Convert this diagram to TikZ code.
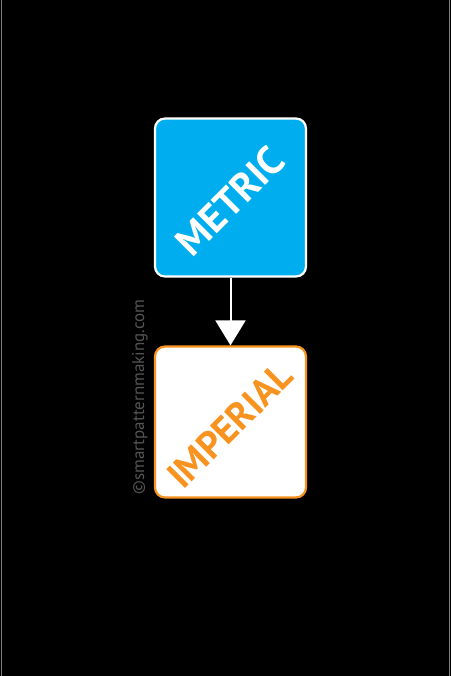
\documentclass[tikz,border=0pt]{standalone}
\usepackage{fontspec}
\setmainfont{PT Sans}
\usepackage{xcolor}
\usetikzlibrary{arrows.meta, positioning}
\definecolor{metricblue}{HTML}{00AEEF}
\definecolor{imperialorange}{HTML}{F7931E}
\definecolor{markgray}{HTML}{555555}

\begin{document}
\begin{tikzpicture}[
    x=1pt, y=-1pt,
    unitbox/.style={rectangle, rounded corners=10pt, minimum width=151pt, minimum height=158pt, line width=2.2pt},
    metricbox/.style={unitbox, draw=white, fill=metricblue},
    imperialbox/.style={unitbox, draw=imperialorange, fill=white, minimum height=151pt},
    unitlabel/.style={rotate=45, font=\fontsize{38}{40}\selectfont\bfseries},
    arrow/.style={-{Triangle[length=25pt, width=30pt]}, line width=2pt, white}
]

% background and frame
\fill[black] (0,0) rectangle (451,676);
\useasboundingbox (0,0) rectangle (451,676);
\draw[gray, line width=1pt] (1.5,0) -- (1.5,676);
\draw[gray, line width=1pt] (449.5,0) -- (449.5,676);

\node[metricbox] (metric) at (230.5,197.5) {};
\node[imperialbox] (imperial) at (230.5,422) {};

\node[unitlabel, text=white, font=\fontsize{40}{42}\selectfont\bfseries] (metrictxt) at (230,201) {METRIC};
\node[unitlabel, text=imperialorange] (imperialtxt) at (230,425) {IMPERIAL};

\draw[arrow] (metric) -- (imperial);

\node[rotate=90, text=markgray, font=\fontsize{17}{18}\selectfont] (mark) at (140,397) {\textcopyright smartpatternmaking.com};

\end{tikzpicture}
\end{document}
